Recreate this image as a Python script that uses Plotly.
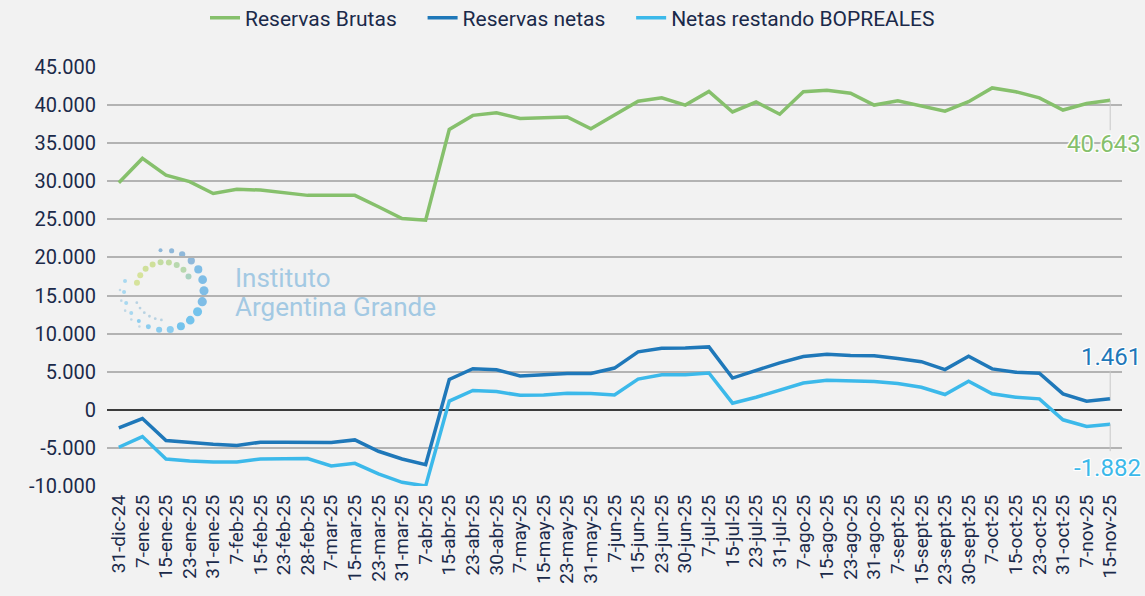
import math
import plotly.graph_objects as go

# ---------------- data ----------------
categories = ["31-dic-24", "7-ene-25", "15-ene-25", "23-ene-25", "31-ene-25", "7-feb-25", "15-feb-25",
              "23-feb-25", "28-feb-25", "7-mar-25", "15-mar-25", "23-mar-25", "31-mar-25", "7-abr-25",
              "15-abr-25", "23-abr-25", "30-abr-25", "7-may-25", "15-may-25", "23-may-25", "31-may-25",
              "7-jun-25", "15-jun-25", "23-jun-25", "30-jun-25", "7-jul-25", "15-jul-25", "23-jul-25",
              "31-jul-25", "7-ago-25", "15-ago-25", "23-ago-25", "31-ago-25", "7-sept-25", "15-sept-25",
              "23-sept-25", "30-sept-25", "7-oct-25", "15-oct-25", "23-oct-25", "31-oct-25", "7-nov-25",
              "15-nov-25"]

reservas_brutas = [29800, 33000, 30800, 29950, 28400, 28950, 28850, 28550, 28150, 28150, 28150, 26650,
                   25100, 24900, 36800, 38650, 39000, 38250, 38350, 38450, 36900, 38650, 40500, 40950,
                   40000, 41800, 39100, 40400, 38800, 41750, 41950, 41550, 40000, 40550, 39850, 39200,
                   40450, 42250, 41750, 40950, 39350, 40200, 40643]

reservas_netas = [-2370, -1140, -4030, -4300, -4520, -4690, -4250, -4250, -4250, -4300, -3950, -5440,
                  -6450, -7190, 3990, 5400, 5260, 4450, 4610, 4780, 4780, 5480, 7610, 8090, 8130, 8260,
                  4170, 5220, 6170, 7000, 7300, 7130, 7090, 6740, 6320, 5280, 7030, 5370, 4930, 4800,
                  2100, 1140, 1461]

netas_bopreales = [-4910, -3510, -6450, -6710, -6840, -6840, -6450, -6450, -6400, -7370, -7020, -8420,
                   -9520, -10000, 1140, 2540, 2410, 1900, 1960, 2170, 2130, 1960, 4040, 4610, 4610, 4830,
                   870, 1650, 2610, 3520, 3870, 3740, 3720, 3440, 2960, 2010, 3760, 2100, 1660, 1440,
                   -1310, -2180, -1882]

series_names = ["Reservas Brutas", "Reservas netas", "Netas restando BOPREALES"]

y_tickvals = [-10000, -5000, 0, 5000, 10000, 15000, 20000, 25000, 30000, 35000, 40000, 45000]
y_ticktext = ["-10.000", "-5.000", "0", "5.000", "10.000", "15.000", "20.000", "25.000", "30.000",
              "35.000", "40.000", "45.000"]

# ---------------- style ----------------
W, H = 1145, 596
ML, MR, MT, MB = 107, 23, 67, 110
BG = "#f2f2f2"
TXT = "#1b2a4a"
GREEN = "#86c06c"
DBLUE = "#1f78b9"
LBLUE = "#3cb9ea"
FONT = "Roboto"

def fmt(v):
    return f"{v:,.0f}".replace(",", ".")

PAD = "\u00a0" * 4
fig = go.Figure()
for i, (name, vals, col) in enumerate(zip(series_names, [reservas_brutas, reservas_netas, netas_bopreales],
                                          [GREEN, DBLUE, LBLUE])):
    fig.add_trace(go.Scatter(x=categories, y=vals, name=name + (PAD if i < 2 else ""), mode="lines",
                             line=dict(color=col, width=3.5),
                             hovertemplate="%{x}: %{y:,.0f}<extra>" + name + "</extra>"))

# end-of-series labels with leader lines
halo = "-1px -1px 0 #ffffff, 1px -1px 0 #ffffff, -1px 1px 0 #ffffff, 1px 1px 0 #ffffff, 0 0 3px #ffffff"
last = len(categories) - 1
for vals, col, lead, shift in [(reservas_brutas, GREEN, -30, -44),
                               (reservas_netas, DBLUE, 28, 42),
                               (netas_bopreales, LBLUE, -27, -44)]:
    fig.add_shape(type="line", xref="x", yref="y", x0=last, x1=last, ysizemode="pixel",
                  yanchor=vals[-1], y0=0, y1=lead, line=dict(color="#c8c8c8", width=1))
    fig.add_annotation(x=categories[-1], y=vals[-1], text=fmt(vals[-1]), showarrow=False,
                       xanchor="right", yanchor="middle", xshift=33, yshift=shift,
                       font=dict(family=FONT, size=24, color=col, shadow=halo))

# watermark logo
pw, ph = W - ML - MR, H - MT - MB
def px2paper(px, py):
    return (px - ML) / pw, (H - MB - py) / ph

tx, ty = px2paper(233, 278)
fig.add_annotation(xref="paper", yref="paper", x=tx, y=ty, text="Instituto", showarrow=False,
                   xanchor="left", yanchor="middle", font=dict(family=FONT, size=26, color="#a3c9e3"))
tx, ty = px2paper(233, 307)
fig.add_annotation(xref="paper", yref="paper", x=tx, y=ty, text="Argentina Grande", showarrow=False,
                   xanchor="left", yanchor="middle", font=dict(family=FONT, size=26, color="#a3c9e3"))

cx, cy = 164, 290
def dot(px, py, r, col):
    x0, y0 = px2paper(px - r, py + r)
    x1, y1 = px2paper(px + r, py - r)
    fig.add_shape(type="circle", xref="paper", yref="paper", x0=x0, y0=y0, x1=x1, y1=y1,
                  fillcolor=col, line=dict(width=0), layer="below")

for k in range(19):
    a = math.radians(95 - k * 16)
    t = k / 18
    r = 2.0 + 2.6 * math.sin(math.pi * min(1, t * 1.3))
    col = ["#8fb8da", "#7fbde6", "#74c3ec", "#8ccdef", "#a8d8f0"][min(4, int(t * 5))]
    dot(cx + 40 * math.cos(a), cy - 40 * math.sin(a), r, col)
for k in range(9):
    a = math.radians(165 - k * 17)
    col = ["#d6e39c", "#cfe09a", "#c3dca2", "#b8d8ae", "#a9d2bf"][min(4, k // 2)]
    dot(cx + 28 * math.cos(a), cy - 28 * math.sin(a), 3.0, col)
for k in range(6):
    a = math.radians(205 + k * 12)
    dot(cx + 30 * math.cos(a), cy - 30 * math.sin(a), 1.4, "#b8d2e2")
for k in range(5):
    a = math.radians(180 + k * 14)
    dot(cx + 44 * math.cos(a), cy - 44 * math.sin(a), 1.3, "#c0d8e6")

fig.update_layout(
    width=W, height=H,
    margin=dict(l=ML, r=MR, t=MT, b=MB, pad=0, autoexpand=False),
    paper_bgcolor=BG, plot_bgcolor=BG,
    separators=",.",
    font=dict(family=FONT, color=TXT),
    showlegend=True,
    legend=dict(orientation="h", xref="container", yref="container", x=0.5, xanchor="center",
                y=1 - 18 / H, yanchor="middle", font=dict(family=FONT, size=21, color=TXT),
                bgcolor="rgba(0,0,0,0)", itemwidth=30),
    xaxis=dict(type="category", range=[-0.5, len(categories) - 0.5], tickmode="linear", dtick=1, tick0=0,
               tickangle=-90, showgrid=False, zeroline=False, showline=False, ticks="",
               tickfont=dict(family=FONT, size=19, color=TXT), ticklabelstandoff=4, automargin=False),
    yaxis=dict(range=[-10000, 45000], tickmode="array", tickvals=y_tickvals, ticktext=y_ticktext,
               showgrid=True, gridcolor="#b3b3b3", gridwidth=1.6, zeroline=True, zerolinecolor="#3c3c3c",
               zerolinewidth=1.8, showline=False, ticks="", tickfont=dict(family=FONT, size=20, color=TXT),
               ticklabelstandoff=10, automargin=False),
)

fig.write_html("out.html", config={"displayModeBar": False},
               post_script="document.body.style.margin='0';")
